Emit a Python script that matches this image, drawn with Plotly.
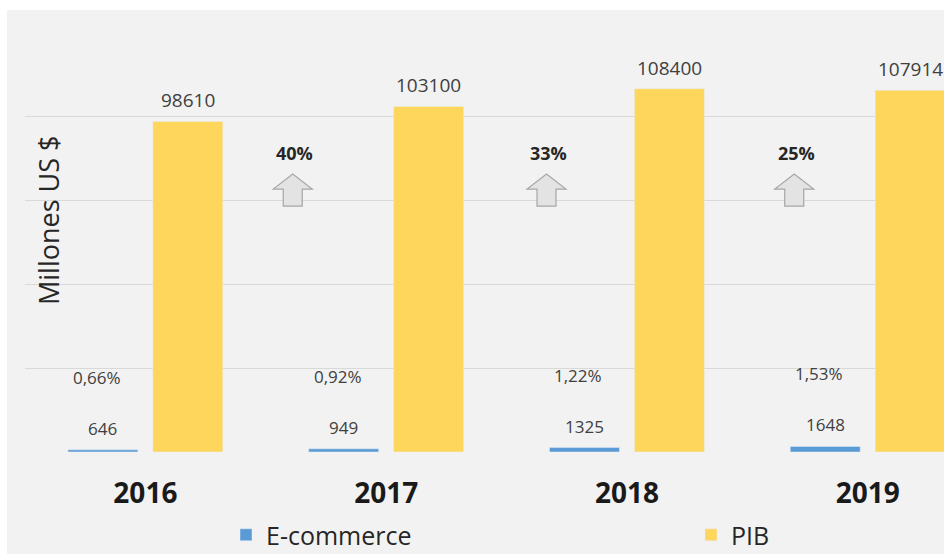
import plotly.graph_objects as go

years = ["2016", "2017", "2018", "2019"]
ecommerce = [646, 949, 1325, 1648]
pib = [98610, 103100, 108400, 107914]
share_labels = ["0,66%", "0,92%", "1,22%", "1,53%"]
growth_labels = ["40%", "33%", "25%"]

BLUE = "#5B9BD5"
YELLOW = "#FED65C"
BG = "#F2F2F2"
GRID = "#D9D9D9"
FONT = "Open Sans"

fig = go.Figure()
fig.add_trace(go.Bar(name="E-commerce", x=years, y=ecommerce, marker_color=BLUE,
                     legend="legend", showlegend=True))
fig.add_trace(go.Bar(name="PIB", x=years, y=pib, marker_color=YELLOW,
                     legend="legend2", showlegend=True))

annotations = []
BAR_SHIFT = 42.5
for i, yr in enumerate(years):
    annotations.append(dict(x=i, y=pib[i], xref="x", yref="y", text=str(pib[i]),
                            showarrow=False, xshift=BAR_SHIFT, yanchor="bottom", yshift=6,
                            font=dict(size=19, color="#404040", family=FONT)))
    annotations.append(dict(x=i, y=ecommerce[i], xref="x", yref="y", text=str(ecommerce[i]),
                            showarrow=False, xshift=-BAR_SHIFT, yanchor="bottom", yshift=8,
                            font=dict(size=17, color="#404040", family=FONT)))
    annotations.append(dict(x=i, y=ecommerce[i], xref="x", yref="y", text=share_labels[i],
                            showarrow=False, xshift=-BAR_SHIFT - 6, yanchor="bottom", yshift=59,
                            font=dict(size=17, color="#404040", family=FONT)))

ARROW_POS = [0.612, 1.666, 2.695]
ARROW_Y = 0.587
shapes = [dict(type="rect", xref="paper", yref="paper", x0=-0.0196, x1=1.05,
               y0=-0.3, y1=1.0549, fillcolor=BG, line_width=0, layer="below")]
arrow_path = "M -9.5,0 L 9.5,0 L 9.5,17 L 19.5,17 L 0,32 L -19.5,17 L -9.5,17 Z"
for i, g in enumerate(growth_labels):
    shapes.append(dict(type="path", xref="x", yref="paper", xsizemode="pixel", ysizemode="pixel",
                       xanchor=ARROW_POS[i], yanchor=ARROW_Y, path=arrow_path,
                       fillcolor="#E3E3E3", line=dict(color="#A6A6A6", width=1.2)))
    annotations.append(dict(x=ARROW_POS[i], y=(452 - 153) / 419, xref="x", yref="paper",
                            xanchor="center", yanchor="middle", text="<b>%s</b>" % g,
                            showarrow=False, xshift=2, font=dict(size=18, color="#262626", family=FONT)))

annotations.append(dict(x=(48 - 25) / 919, y=(452 - 220) / 419, xref="paper", yref="paper",
                        xanchor="center", yanchor="middle",
                        text="Millones US $", textangle=-90, showarrow=False,
                        font=dict(size=27, color="#262626", family=FONT)))

legend_common = dict(orientation="h", xanchor="left", y=(452 - 535) / 419, yanchor="middle",
                     bgcolor="rgba(0,0,0,0)", borderwidth=0, tracegroupgap=0,
                     font=dict(size=25, color="#262626", family=FONT))

fig.update_layout(
    width=944, height=554,
    margin=dict(l=25, r=0, t=33, b=102, autoexpand=False),
    paper_bgcolor="white", plot_bgcolor=BG,
    showlegend=True,
    barmode="group", bargap=0.2946, bargroupgap=0.176,
    font=dict(family=FONT, color="#262626"),
    xaxis=dict(type="category", range=[-0.5, 3.317], showgrid=False, zeroline=False,
               showline=False, ticks="", ticklabelstandoff=22,
               tickfont=dict(size=28, color="#1a1a1a", family=FONT),
               tickprefix="<b>", ticksuffix="</b>"),
    yaxis=dict(range=[0, 125000], dtick=25000, showticklabels=False, gridcolor=GRID,
               gridwidth=1, zeroline=False, showline=False, ticks=""),
    legend=dict(x=(226 - 25) / 919, **legend_common),
    legend2=dict(x=(691 - 25) / 919, **legend_common),
    annotations=annotations,
    shapes=shapes,
)

fig.write_html("out.html")
